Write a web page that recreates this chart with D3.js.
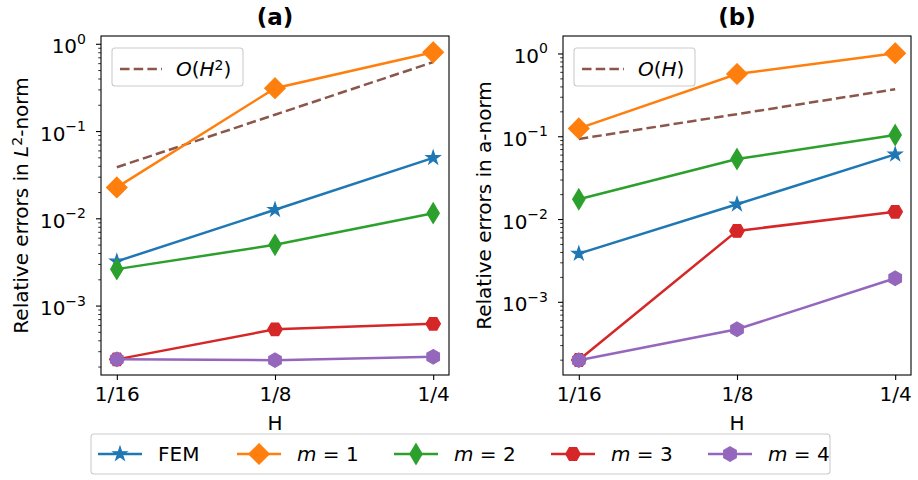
<!DOCTYPE html>
<html>
<head>
<meta charset="utf-8">
<script src="https://cdn.jsdelivr.net/npm/d3@7"></script>
<style>
  body { margin: 0; background: #fff; }
  text { font-family: "DejaVu Sans", sans-serif; fill: #000; }
</style>
</head>
<body>
<div id="chart"></div>
<script>
const width = 918;
const height = 480;
const fontSize = 20;
const lineW = 2.5;
const dash = "9.5,4.2";

// H values and tick labels
const hValues = [1/16, 1/8, 1/4];
const hLabels = ["1/16", "1/8", "1/4"];

// (a) relative errors in L2-norm
const l2Fem = [3.25e-3, 0.0127, 0.050];
const l2M1 = [0.0229, 0.314, 0.81];
const l2M2 = [2.65e-3, 5.03e-3, 0.0116];
const l2M3 = [2.45e-4, 5.41e-4, 6.26e-4];
const l2M4 = [2.45e-4, 2.40e-4, 2.62e-4];
const l2Ref = [0.039, 0.156, 0.625];

// (b) relative errors in a-norm
const aFem = [3.88e-3, 0.0153, 0.0612];
const aM1 = [0.126, 0.573, 1.02];
const aM2 = [0.0176, 0.0538, 0.105];
const aM3 = [2.01e-4, 7.29e-3, 0.0124];
const aM4 = [2.0e-4, 4.72e-4, 1.95e-3];
const aRef = [0.094, 0.1875, 0.375];

const seriesNames = ["FEM", "m1", "m2", "m3", "m4"];
const seriesLabels = [["FEM"], ["m", " = 1"], ["m", " = 2"], ["m", " = 3"], ["m", " = 4"]];
const colors = {FEM: "#1f77b4", m1: "#ff7f0e", m2: "#2ca02c", m3: "#d62728", m4: "#9467bd"};
const refColor = "#8c564b";

const ms = 14.5; // marker size in px

function markerPath(name) {
    const r = ms / 2;
    if (name === "FEM") {
        // 5-point star
        const pts = [];
        for (let i = 0; i < 10; i++) {
            const rr = i % 2 === 0 ? r : r * 0.381966;
            const ang = -Math.PI / 2 + i * Math.PI / 5;
            pts.push([rr * Math.cos(ang), rr * Math.sin(ang)]);
        }
        return "M" + pts.map(p => p.join(",")).join("L") + "Z";
    }
    if (name === "m1" || name === "m2") {
        const hh = r * Math.SQRT2;
        const hw = name === "m1" ? hh : hh * 0.6;
        return `M0,${-hh}L${hw},0L0,${hh}L${-hw},0Z`;
    }
    // hexagons: m3 flat top, m4 pointy top
    const offset = name === "m4" ? -Math.PI / 2 : 0;
    const pts = d3.range(6).map(i => {
        const ang = offset + i * Math.PI / 3;
        return [r * Math.cos(ang), r * Math.sin(ang)];
    });
    return "M" + pts.map(p => p.join(",")).join("L") + "Z";
}

const svg = d3.select("#chart").append("svg")
    .attr("width", width)
    .attr("height", height);

svg.append("rect").attr("width", width).attr("height", height).attr("fill", "#fff");

const panels = [
    {
        title: "(a)", left: 101, right: 449, yDomain: [Math.pow(10, -3.79), Math.pow(10, 0.095)],
        data: {FEM: l2Fem, m1: l2M1, m2: l2M2, m3: l2M3, m4: l2M4}, ref: l2Ref,
        yLabel: [["Relative errors in ", ""], ["L", "i"], ["2", "sup"], ["-norm", ""]], yLabelX: 28,
        refLabel: [["O", "i"], ["(", ""], ["H", "i"], ["2", "sup"], [")", ""]], legendW: 131
    },
    {
        title: "(b)", left: 563, right: 911, yDomain: [Math.pow(10, -3.878), Math.pow(10, 0.217)],
        data: {FEM: aFem, m1: aM1, m2: aM2, m3: aM3, m4: aM4}, ref: aRef,
        yLabel: [["Relative errors in a-norm", ""]], yLabelX: 491,
        refLabel: [["O", "i"], ["(", ""], ["H", "i"], [")", ""]], legendW: 121
    }
];

const plotTop = 36, plotBottom = 375;

function addRich(textSel, parts, size) {
    parts.forEach(([s, style]) => {
        const t = textSel.append("tspan").text(s);
        if (style === "i") t.style("font-style", "italic");
        if (style === "sup") {
            t.attr("font-size", size * 0.7).attr("baseline-shift", "45%");
        }
    });
}

panels.forEach(p => {
    const g = svg.append("g");
    const x = d3.scaleLog().base(2).domain([1/16, 1/4]).range([p.left + (p.right - p.left) / 22, p.right - (p.right - p.left) / 22]);
    const y = d3.scaleLog().domain(p.yDomain).range([plotBottom, plotTop]);

    // minor and major y ticks
    const [lo, hi] = p.yDomain;
    for (let e = Math.floor(Math.log10(lo)); e <= Math.ceil(Math.log10(hi)); e++) {
        for (let k = 1; k <= 9; k++) {
            const v = k * Math.pow(10, e);
            if (v < lo || v > hi) continue;
            const major = k === 1;
            g.append("line")
                .attr("x1", p.left).attr("x2", p.left - (major ? 5 : 2.8))
                .attr("y1", y(v)).attr("y2", y(v))
                .attr("stroke", "#000").attr("stroke-width", major ? 1.1 : 0.8);
            if (major) {
                const t = g.append("text")
                    .attr("x", p.left - 15).attr("y", y(v) + 9)
                    .attr("text-anchor", "end")
                    .attr("font-size", fontSize);
                t.append("tspan").text("10");
                t.append("tspan").text(e === 0 ? "0" : "\u2212" + (-e))
                    .attr("font-size", fontSize * 0.7).attr("dy", -9.5);
            }
        }
    }

    // x ticks
    const xAxis = d3.axisBottom(x).tickValues(hValues).tickFormat((d, i) => hLabels[i]).tickSize(5).tickPadding(6);
    const xg = g.append("g").attr("transform", `translate(0,${plotBottom})`).call(xAxis);
    xg.select(".domain").remove();
    xg.selectAll("line").attr("stroke", "#000").attr("stroke-width", 1.1);
    xg.selectAll("text").attr("font-size", fontSize).attr("font-family", "DejaVu Sans").attr("dy", "0.75em").attr("y", 11);

    // reference dashed line
    const line = d3.line().x((d, i) => x(hValues[i])).y(d => y(d));
    g.append("path").datum(p.ref)
        .attr("d", line).attr("fill", "none")
        .attr("stroke", refColor).attr("stroke-width", lineW)
        .attr("stroke-dasharray", dash);

    // series
    seriesNames.forEach(name => {
        const vals = p.data[name];
        g.append("path").datum(vals)
            .attr("d", line).attr("fill", "none")
            .attr("stroke", colors[name]).attr("stroke-width", lineW);
        g.selectAll(null).data(vals).enter().append("path")
            .attr("d", markerPath(name))
            .attr("transform", (d, i) => `translate(${x(hValues[i])},${y(d)})`)
            .attr("fill", colors[name]).attr("stroke", colors[name]).attr("stroke-width", 1.2);
    });

    // frame
    g.append("rect")
        .attr("x", p.left).attr("y", plotTop)
        .attr("width", p.right - p.left).attr("height", plotBottom - plotTop)
        .attr("fill", "none").attr("stroke", "#000").attr("stroke-width", 1.1);

    // title
    g.append("text")
        .attr("x", (p.left + p.right) / 2).attr("y", 25)
        .attr("text-anchor", "middle")
        .attr("font-size", 23).attr("font-weight", "bold")
        .text(p.title);

    // x label
    g.append("text")
        .attr("x", (p.left + p.right) / 2).attr("y", 430)
        .attr("text-anchor", "middle").attr("font-size", fontSize)
        .text("H");

    // y label
    const yl = g.append("text")
        .attr("transform", `translate(${p.yLabelX},${(plotTop + plotBottom) / 2}) rotate(-90)`)
        .attr("text-anchor", "middle").attr("font-size", fontSize);
    addRich(yl, p.yLabel, fontSize);

    // inner legend
    const lx = p.left + 11, ly = 48;
    g.append("rect")
        .attr("x", lx).attr("y", ly).attr("width", p.legendW).attr("height", 38)
        .attr("rx", 3).attr("fill", "#fff").attr("fill-opacity", 0.8)
        .attr("stroke", "#ccc").attr("stroke-width", 1.1);
    g.append("line")
        .attr("x1", lx + 8).attr("x2", lx + 50).attr("y1", ly + 21).attr("y2", ly + 21)
        .attr("stroke", refColor).attr("stroke-width", lineW).attr("stroke-dasharray", dash);
    const rt = g.append("text")
        .attr("x", lx + 64).attr("y", ly + 28).attr("font-size", fontSize);
    addRich(rt, p.refLabel, fontSize);
});

// bottom legend
const legX = [98, 237, 394, 551, 708];
const lg = svg.append("g");
lg.append("rect")
    .attr("x", 91).attr("y", 434).attr("width", 739).attr("height", 40)
    .attr("rx", 3).attr("fill", "#fff").attr("stroke", "#ccc").attr("stroke-width", 1.1);
seriesNames.forEach((name, i) => {
    const x0 = legX[i];
    lg.append("line")
        .attr("x1", x0).attr("x2", x0 + 44).attr("y1", 454).attr("y2", 454)
        .attr("stroke", colors[name]).attr("stroke-width", lineW);
    lg.append("path")
        .attr("d", markerPath(name))
        .attr("transform", `translate(${x0 + 22},454)`)
        .attr("fill", colors[name]).attr("stroke", colors[name]).attr("stroke-width", 1.2);
    const t = lg.append("text").attr("x", x0 + 60).attr("y", 461).attr("font-size", fontSize);
    const parts = seriesLabels[i];
    if (parts.length === 1) {
        t.text(parts[0]);
    } else {
        t.append("tspan").text(parts[0]).style("font-style", "italic");
        t.append("tspan").text(parts[1]);
    }
});
</script>
</body>
</html>
